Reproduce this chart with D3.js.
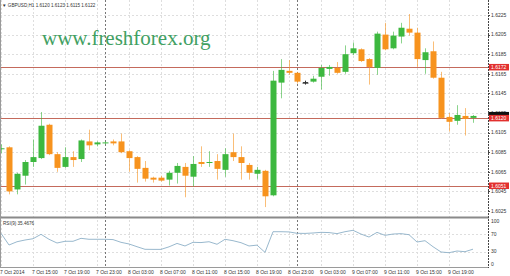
<!DOCTYPE html>
<meta charset="utf-8">
<style>
body { margin: 0; background: #fff; }
svg { display: block; }
.axis text { font-family: 'Liberation Sans', Arial, sans-serif; font-size: 5px; fill: #333; }
</style>
<body>
<div id="chart"></div>
<script src="https://cdn.jsdelivr.net/npm/d3@7"></script>
<script>

// GBPUSD H1, 7 Oct 11:00 .. 9 Oct 22:00 (one value per bar)
var open = [1.6088,1.6090,1.6047,1.6061,1.6075,1.6079,1.6113,1.6083,1.6070,1.6080,
            1.6078,1.6096,1.6093,1.6094,1.6096,1.6096,1.6086,1.6080,1.6069,1.6059,
            1.6059,1.6057,1.6064,1.6070,1.6060,1.6075,1.6074,1.6076,1.6067,1.6085,
            1.6080,1.6072,1.6063,1.6066,1.6041,1.6156,1.6168,1.6166,1.6156,1.6157,
            1.6162,1.6170,1.6171,1.6167,1.6186,1.6190,1.6180,1.6171,1.6205,1.6191,
            1.6203,1.6211,1.6207,1.6179,1.6188,1.6161,1.6121,1.6117,1.6122,1.6120];
var high = [1.6093,1.6091,1.6064,1.6077,1.6098,1.6126,1.6114,1.6085,1.6090,1.6086,
            1.6098,1.6108,1.6096,1.6096,1.6098,1.6104,1.6087,1.6081,1.6076,1.6060,
            1.6061,1.6066,1.6074,1.6074,1.6081,1.6091,1.6086,1.6083,1.6089,1.6104,
            1.6091,1.6074,1.6070,1.6067,1.6168,1.6180,1.6179,1.6167,1.6158,1.6163,
            1.6174,1.6174,1.6177,1.6194,1.6197,1.6191,1.6181,1.6208,1.6217,1.6208,
            1.6217,1.6226,1.6212,1.6191,1.6198,1.6167,1.6125,1.6133,1.6130,1.6123];
var low  = [1.6084,1.6042,1.6042,1.6052,1.6070,1.6078,1.6082,1.6065,1.6069,1.6070,
            1.6075,1.6087,1.6091,1.6093,1.6092,1.6084,1.6065,1.6054,1.6055,1.6054,
            1.6055,1.6051,1.6053,1.6039,1.6050,1.6070,1.6070,1.6057,1.6060,1.6076,
            1.6057,1.6057,1.6057,1.6029,1.6040,1.6140,1.6164,1.6155,1.6154,1.6156,
            1.6149,1.6163,1.6165,1.6165,1.6184,1.6177,1.6154,1.6164,1.6189,1.6190,
            1.6196,1.6204,1.6172,1.6165,1.6160,1.6119,1.6106,1.6113,1.6102,1.6115];
var close = [1.6089,1.6045,1.6063,1.6075,1.6080,1.6112,1.6083,1.6069,1.6080,1.6077,
            1.6097,1.6092,1.6095,1.6095,1.6094,1.6085,1.6079,1.6068,1.6058,1.6057,
            1.6056,1.6064,1.6071,1.6061,1.6073,1.6073,1.6075,1.6068,1.6083,1.6080,
            1.6074,1.6064,1.6067,1.6040,1.6158,1.6169,1.6166,1.6157,1.6156,1.6160,
            1.6171,1.6172,1.6166,1.6185,1.6191,1.6178,1.6172,1.6206,1.6190,1.6204,
            1.6212,1.6207,1.6180,1.6187,1.6161,1.6120,1.6116,1.6123,1.6119,1.6122];

var rsi = [72.8,45.3,53,57,60,70.4,58.7,50,54,54,
           61,58.7,58.7,58.7,58,51.6,47.7,41.3,35.2,35,
           35,41,49,43,51.6,51,53,47,58.7,55.4,
           50.7,43,45,28,76.5,76.5,76,72.8,72.5,73.5,
           75,74.5,72,76.5,79.8,71,64,75,68,71,
           72,69.5,52.3,55.4,41.3,28.9,27.2,31.2,29.6,35.5];

var timeLabels = ["7 Oct 2014","7 Oct 15:00","7 Oct 19:00","7 Oct 23:00","8 Oct 03:00",
                  "8 Oct 07:00","8 Oct 11:00","8 Oct 15:00","8 Oct 19:00","8 Oct 23:00",
                  "9 Oct 03:00","9 Oct 07:00","9 Oct 11:00","9 Oct 15:00","9 Oct 19:00"];
var daySeparators = [13, 37];   // bar index of 8 Oct 00:00 and 9 Oct 00:00
var priceTicks = [1.6225,1.6205,1.6185,1.6165,1.6145,1.6125,1.6105,1.6085,1.6065,1.6045,1.6025];
var levels = [1.6172, 1.6120, 1.6051];
var rsiTicks = [100, 70, 30, 0];
var rsiLevels = [70, 30];
var bid = 1.6122;

var width = 510, height = 276;
var axisX = 488;

var svg = d3.select("#chart").append("svg")
    .attr("width", width)
    .attr("height", height);

// scales
var x = d3.scaleLinear().domain([0, 59]).range([1, 473]);
var y = d3.scaleLinear().domain([1.6025, 1.6225]).range([211, 15]);
var yr = d3.scaleLinear().domain([0, 100]).range([264.3, 221.7]);

var idx = d3.range(open.length);

// clip for the two panels
svg.append("clipPath").attr("id", "mainclip")
  .append("rect").attr("x", 0).attr("y", 0).attr("width", axisX).attr("height", 216);
svg.append("clipPath").attr("id", "rsiclip")
  .append("rect").attr("x", 0).attr("y", 219).attr("width", axisX).attr("height", 48);

// grid
var grid = svg.append("g").style("stroke", "#dedede").style("stroke-dasharray", "2,2");
grid.selectAll("line.v")
    .data(d3.range(timeLabels.length))
    .enter().append("line")
    .attr("x1", function(d) { return Math.round(x(d * 4)) + 0.5; })
    .attr("x2", function(d) { return Math.round(x(d * 4)) + 0.5; })
    .attr("y1", 0).attr("y2", 267);
grid.selectAll("line.h")
    .data(priceTicks)
    .enter().append("line")
    .attr("x1", 0).attr("x2", axisX)
    .attr("y1", function(d) { return Math.round(y(d)) + 0.5; })
    .attr("y2", function(d) { return Math.round(y(d)) + 0.5; });
grid.selectAll("line.r")
    .data(rsiLevels)
    .enter().append("line")
    .attr("x1", 0).attr("x2", axisX)
    .attr("y1", function(d) { return Math.round(yr(d)) + 0.5; })
    .attr("y2", function(d) { return Math.round(yr(d)) + 0.5; });

// watermark
svg.append("text")
    .attr("x", 42).attr("y", 45)
    .style("font-family", "'Liberation Serif', 'Times New Roman', serif")
    .style("font-size", "21px")
    .style("fill", "#41a062")
    .text("www.freshforex.org");

// horizontal levels
svg.append("g").selectAll("line")
    .data(levels)
    .enter().append("line")
    .attr("x1", 0).attr("x2", axisX)
    .attr("y1", function(d) { return Math.round(y(d)) + 0.5; })
    .attr("y2", function(d) { return Math.round(y(d)) + 0.5; })
    .style("stroke", "#c46a5c")
    .style("stroke-width", 1);

// day separators
svg.append("g").selectAll("line")
    .data(daySeparators)
    .enter().append("line")
    .attr("x1", function(d) { return Math.round(x(d)) + 0.5; })
    .attr("x2", function(d) { return Math.round(x(d)) + 0.5; })
    .attr("y1", 0).attr("y2", 267)
    .style("stroke", "#777")
    .style("stroke-dasharray", "2,2");

// candles
function colour(i) {
  if (close[i] > open[i]) return "#3db83f";
  if (close[i] < open[i]) return "#f7931e";
  return "#333";
}
var candles = svg.append("g").attr("clip-path", "url(#mainclip)");
candles.selectAll("line.wick")
    .data(idx)
    .enter().append("line")
    .attr("class", "wick")
    .attr("x1", function(i) { return Math.round(x(i)) + 0.5; })
    .attr("x2", function(i) { return Math.round(x(i)) + 0.5; })
    .attr("y1", function(i) { return y(high[i]); })
    .attr("y2", function(i) { return y(low[i]); })
    .style("stroke", colour)
    .style("stroke-opacity", function(i) { return close[i] == open[i] ? 1 : 0.6; });
candles.selectAll("rect.body")
    .data(idx)
    .enter().append("rect")
    .attr("class", "body")
    .attr("x", function(i) { return Math.round(x(i)) - 2.5; })
    .attr("width", 6)
    .attr("y", function(i) { return y(Math.max(open[i], close[i])); })
    .attr("height", function(i) { return Math.max(1, Math.abs(y(open[i]) - y(close[i]))); })
    .style("fill", colour);
// doji cross bar
candles.selectAll("line.doji")
    .data(idx.filter(function(i) { return open[i] == close[i]; }))
    .enter().append("line")
    .attr("x1", function(i) { return Math.round(x(i)) - 2; })
    .attr("x2", function(i) { return Math.round(x(i)) + 3; })
    .attr("y1", function(i) { return y(open[i]); })
    .attr("y2", function(i) { return y(open[i]); })
    .style("stroke", "#333");

// RSI line
var rsiLine = d3.line()
    .x(function(i) { return x(i); })
    .y(function(i) { return yr(rsi[i]); });
svg.append("path")
    .datum(idx)
    .attr("clip-path", "url(#rsiclip)")
    .attr("d", rsiLine)
    .style("fill", "none")
    .style("stroke", "#8db0c7")
    .style("stroke-width", 0.9);

// frames
svg.append("line").attr("x1", 0).attr("x2", axisX + 1).attr("y1", 217.5).attr("y2", 217.5)
    .style("stroke", "#8a8a8a").style("stroke-width", 2);
svg.append("line").attr("x1", 0).attr("x2", axisX + 1).attr("y1", 267.5).attr("y2", 267.5)
    .style("stroke", "#9a9a9a");
svg.append("line").attr("x1", 0.5).attr("x2", 0.5).attr("y1", 0).attr("y2", 268)
    .style("stroke", "#9a9a9a");
svg.append("line").attr("x1", axisX + 0.5).attr("x2", axisX + 0.5).attr("y1", 0).attr("y2", 268)
    .style("stroke", "#444").style("stroke-dasharray", "2,1");

// price axis
var pAxis = svg.append("g").attr("class", "axis");
pAxis.selectAll("text")
    .data(priceTicks)
    .enter().append("text")
    .attr("x", 491)
    .attr("y", function(d) { return y(d); })
    .attr("dy", "0.35em")
    .text(function(d) { return d.toFixed(4); });
pAxis.selectAll("line")
    .data(priceTicks)
    .enter().append("line")
    .attr("x1", axisX).attr("x2", axisX + 2)
    .attr("y1", function(d) { return Math.round(y(d)) + 0.5; })
    .attr("y2", function(d) { return Math.round(y(d)) + 0.5; })
    .style("stroke", "#444");

// bid marker (black, mostly hidden) then level labels (red)
var tags = svg.append("g").attr("class", "axis");
tags.append("rect")
    .attr("x", axisX + 1).attr("y", y(bid) - 4).attr("width", 20).attr("height", 6)
    .style("fill", "#111");
var lv = tags.selectAll("g.lv").data(levels).enter().append("g");
lv.append("rect")
    .attr("x", axisX + 1)
    .attr("y", function(d) { return y(d) - 3; })
    .attr("width", 20).attr("height", 6.5)
    .style("fill", "#e2302e");
lv.append("text")
    .attr("x", 491)
    .attr("y", function(d) { return y(d) + 0.3; })
    .attr("dy", "0.35em")
    .style("fill", "#fff")
    .text(function(d) { return d.toFixed(4); });

// RSI axis
var rAxis = svg.append("g").attr("class", "axis");
rAxis.selectAll("text")
    .data(rsiTicks)
    .enter().append("text")
    .attr("x", 491)
    .attr("y", function(d) { return yr(d); })
    .attr("dy", "0.35em")
    .text(function(d) { return d; });

// time axis
svg.append("g").attr("class", "axis").selectAll("text")
    .data(timeLabels)
    .enter().append("text")
    .attr("x", function(d, j) { return x(j * 4) - 1; })
    .attr("y", 273.5)
    .text(function(d) { return d; });

// headers
svg.append("text")
    .attr("x", 2).attr("y", 6.5)
    .style("font-family", "'Liberation Sans', Arial, sans-serif")
    .style("font-size", "4.6px").style("fill", "#333")
    .text("\u25BC GBPUSD,H1  1.6120 1.6123 1.6115 1.6122");
svg.append("text")
    .attr("x", 3).attr("y", 225)
    .style("font-family", "'Liberation Sans', Arial, sans-serif")
    .style("font-size", "4.6px").style("fill", "#333")
    .text("RSI(9) 35.4676");

</script>
</body>
